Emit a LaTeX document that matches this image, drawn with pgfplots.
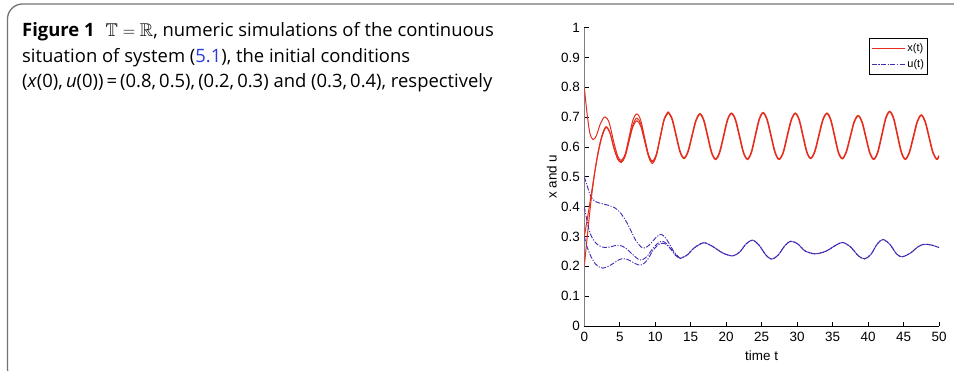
\documentclass[border=0pt]{standalone}
\usepackage{amssymb}
\usepackage{fontspec}
\setmainfont{Open Sans}
\newfontfamily\lib{Liberation Sans}
\usepackage{pgfplots}
\pgfplotsset{compat=1.18}
\definecolor{xred}{RGB}{228,45,28}
\definecolor{ublue}{RGB}{70,40,180}
\definecolor{linkblue}{RGB}{40,60,220}
\definecolor{framegray}{RGB}{115,115,115}
\begin{document}
\begin{tikzpicture}
\path[use as bounding box] (0,0) rectangle (954bp,371bp);
\draw[framegray, line width=1.3bp, rounded corners=15bp] (970bp,367bp) -- (7.5bp,367bp) -- (7.5bp,-13bp) -- (300bp,-13bp);
\node[anchor=base west, inner sep=0pt, font=\fontsize{18.5}{25}\selectfont] at (22bp,334bp) {\textbf{Figure 1}\hspace{0.6em}$\mathbb{T}=\mathbb{R}$, numeric simulations of the continuous};
\node[anchor=base west, inner sep=0pt, font=\fontsize{18.5}{25}\selectfont] at (22bp,308.5bp) {situation of system (\textcolor{linkblue}{5.1}), the initial conditions};
\node[anchor=base west, inner sep=0pt, font=\fontsize{18.5}{25}\selectfont] at (22bp,283bp) {(\textit{x}(0),\,\textit{u}(0))\,=\,(0.8,\,0.5),\,(0.2,\,0.3) and (0.3,\,0.4), respectively};
\begin{axis}[
  at={(584.3bp,45bp)}, anchor=south west,
  scale only axis, width=354.7bp, height=298.3bp,
  xmin=0, xmax=50, ymin=0, ymax=1,
  axis lines*=left,
  xtick={0,5,10,15,20,25,30,35,40,45,50},
  ytick={0,0.1,0.2,0.3,0.4,0.5,0.6,0.7,0.8,0.9,1},
  yticklabels={0,0.1,0.2,0.3,0.4,0.5,0.6,0.7,0.8,0.9,1},
  tick align=inside, major tick length=4.5bp,
  x axis line style={black, line width=0.9bp},
  y axis line style={gray, line width=1.5bp},
  tick style={black, line width=0.8bp},
  /pgf/number format/assume math mode=true,
  ticklabel style={font=\fontsize{13.5}{15}\lib},
  xticklabel style={yshift=-2.5bp},
  yticklabel style={xshift=-1bp},
  xlabel={time t}, ylabel={x and u},
  label style={font=\fontsize{13.5}{15}\lib},
  xlabel style={yshift=-2bp},
  ylabel style={yshift=-2.5bp},
  legend style={at={(0.97,0.966)}, anchor=north east, draw=black, line width=0.9bp,
    font=\fontsize{11}{13}\lib, inner xsep=2bp, inner ysep=3.5bp, row sep=2.5bp, cells={anchor=west}},
  legend image code/.code={\draw[#1] (0bp,0bp) -- (33bp,0bp);},
]
% x(t), initial 0.8
\addplot[xred, line width=1bp, smooth] table {
0 0.80
0.4 0.71
0.8 0.645
1.25 0.625
1.7 0.638
2.3 0.680
2.9 0.701
3.5 0.682
4.1 0.622
4.7 0.570
5.2 0.555
5.75 0.576
6.3 0.632
6.85 0.690
7.4 0.711
7.95 0.690
8.5 0.632
9.05 0.575
9.6 0.553
10.15 0.576
10.7 0.635
11.25 0.694
11.8 0.718
};
\addlegendentry{x(t)}
\addplot[ublue, line width=0.9bp, smooth, dash pattern=on 5bp off 1.5bp on 1.2bp off 1.5bp] table {
0 0.50
0.4 0.47
0.9 0.435
1.5 0.418
2.5 0.410
3.5 0.404
4.3 0.396
5.0 0.382
5.8 0.355
6.6 0.318
7.3 0.285
8.0 0.265
8.6 0.262
9.3 0.275
10.0 0.294
10.7 0.307
11.3 0.300
12.0 0.275
12.7 0.247
13.5 0.227
};
\addlegendentry{u(t)}
% x(t), initial 0.2
\addplot[xred, line width=1bp, smooth, forget plot] table {
0 0.20
0.5 0.32
1.0 0.43
1.5 0.52
2.0 0.59
2.5 0.64
3.05 0.668
3.6 0.650
4.15 0.600
4.7 0.562
5.2 0.550
5.75 0.570
6.3 0.622
6.85 0.675
7.4 0.697
7.95 0.678
8.5 0.625
9.05 0.572
9.6 0.550
10.15 0.574
10.7 0.632
11.25 0.692
11.8 0.716
};
% x(t), initial 0.3
\addplot[xred, line width=1bp, smooth, forget plot] table {
0 0.30
0.5 0.37
1.0 0.445
1.5 0.52
2.0 0.585
2.5 0.635
3.05 0.665
3.6 0.648
4.15 0.598
4.7 0.560
5.2 0.548
5.75 0.568
6.3 0.618
6.85 0.668
7.4 0.688
7.95 0.670
8.5 0.620
9.05 0.568
9.6 0.545
10.15 0.570
10.7 0.630
11.25 0.690
11.8 0.714
};
% x(t), common part
\addplot[xred, line width=1.6bp, smooth, forget plot] table {
11.8 0.718
12.36 0.695
12.93 0.640
13.49 0.585
14.05 0.562
14.61 0.584
15.18 0.637
15.74 0.689
16.3 0.711
16.85 0.689
17.4 0.635
17.95 0.581
18.5 0.559
19.06 0.581
19.63 0.636
20.19 0.691
20.75 0.713
21.31 0.691
21.88 0.636
22.44 0.581
23.0 0.559
23.55 0.582
24.1 0.637
24.65 0.692
25.2 0.715
25.76 0.692
26.33 0.637
26.89 0.582
27.45 0.559
28.03 0.581
28.6 0.636
29.18 0.691
29.75 0.713
30.29 0.691
30.83 0.637
31.36 0.584
31.9 0.562
32.48 0.584
33.05 0.637
33.63 0.691
34.2 0.713
34.74 0.691
35.28 0.637
35.81 0.583
36.35 0.561
36.91 0.582
37.48 0.633
38.04 0.684
38.6 0.705
39.15 0.684
39.7 0.632
40.25 0.580
40.8 0.559
41.36 0.582
41.93 0.639
42.49 0.696
43.05 0.719
43.6 0.696
44.15 0.639
44.7 0.582
45.25 0.559
45.81 0.581
46.38 0.633
46.94 0.685
47.5 0.707
48.05 0.685
48.6 0.633
49.15 0.581
49.7 0.559
50 0.571
};
% u(t), initial 0.4
\addplot[ublue, line width=0.9bp, smooth, forget plot, dash pattern=on 5bp off 1.5bp on 1.2bp off 1.5bp] table {
0 0.40
0.4 0.35
0.8 0.312
1.3 0.288
2.0 0.270
2.9 0.263
3.8 0.266
4.6 0.271
5.3 0.268
6.0 0.258
6.8 0.240
7.6 0.224
8.2 0.222
8.9 0.235
9.6 0.258
10.3 0.276
10.9 0.284
11.5 0.278
12.2 0.258
12.9 0.236
13.5 0.227
};
% u(t), initial 0.3
\addplot[ublue, line width=0.9bp, smooth, forget plot, dash pattern=on 5bp off 1.5bp on 1.2bp off 1.5bp] table {
0 0.30
0.4 0.265
0.9 0.235
1.5 0.210
2.1 0.198
2.6 0.194
3.3 0.199
4.1 0.210
4.9 0.222
5.5 0.226
6.2 0.222
6.9 0.213
7.6 0.205
8.2 0.206
8.9 0.222
9.6 0.250
10.3 0.270
10.9 0.277
11.5 0.274
12.2 0.258
12.9 0.237
13.5 0.226
};
% u(t), common part (two phases of the dash pattern)
\addplot[ublue, line width=1bp, smooth, forget plot, dash pattern=on 5bp off 1.5bp on 1.2bp off 1.5bp] table {
13.5 0.226
14.5 0.238
15.5 0.262
16.8 0.279
18.0 0.268
19.5 0.245
20.9 0.235
21.9 0.248
22.8 0.275
23.7 0.288
24.6 0.272
25.6 0.238
26.4 0.224
27.3 0.237
28.3 0.270
29.1 0.284
30.1 0.275
31.1 0.252
32.5 0.242
34.0 0.250
35.4 0.270
36.4 0.280
37.5 0.266
38.6 0.236
39.5 0.225
40.4 0.240
41.3 0.275
42.1 0.290
43.1 0.273
44.0 0.242
44.8 0.232
46.0 0.245
47.0 0.265
47.9 0.274
49.0 0.271
50 0.263
};
\addplot[ublue, line width=1bp, smooth, forget plot, dash pattern=on 5bp off 1.5bp on 1.2bp off 1.5bp, dash phase=4bp] table {
13.5 0.226
14.5 0.238
15.5 0.262
16.8 0.279
18.0 0.268
19.5 0.245
20.9 0.235
21.9 0.248
22.8 0.275
23.7 0.288
24.6 0.272
25.6 0.238
26.4 0.224
27.3 0.237
28.3 0.270
29.1 0.284
30.1 0.275
31.1 0.252
32.5 0.242
34.0 0.250
35.4 0.270
36.4 0.280
37.5 0.266
38.6 0.236
39.5 0.225
40.4 0.240
41.3 0.275
42.1 0.290
43.1 0.273
44.0 0.242
44.8 0.232
46.0 0.245
47.0 0.265
47.9 0.274
49.0 0.271
50 0.263
};
\end{axis}
\end{tikzpicture}
\end{document}
